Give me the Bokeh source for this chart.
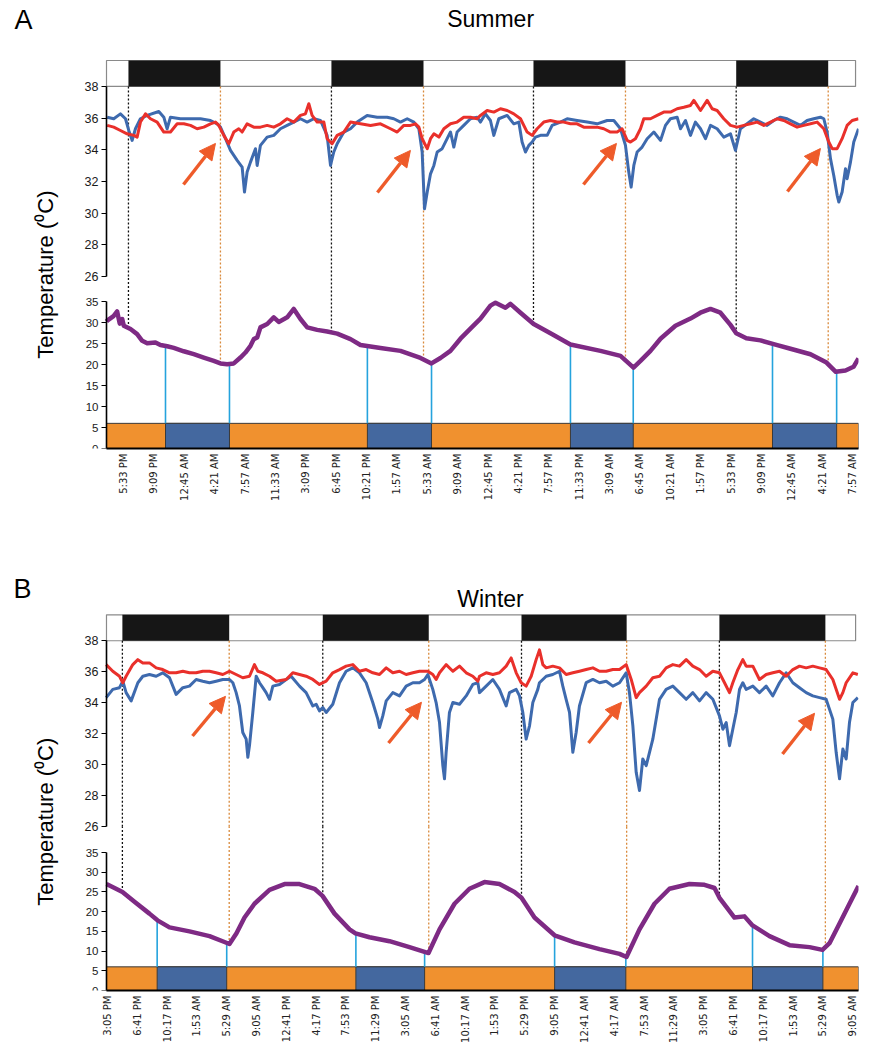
import numpy as np
from bokeh.plotting import figure
from bokeh.models import (Range1d, LinearAxis, FixedTicker, CustomJSTickFormatter,
                          Label, Arrow, NormalHead)
from bokeh.layouts import column
from bokeh.embed import file_html
from bokeh.resources import INLINE

# ---------------- data: Summer (panel A) ----------------
# time axis in hours from the first tick label
A_TICKS = ["5:33 PM", "9:09 PM", "12:45 AM", "4:21 AM", "7:57 AM", "11:33 AM", "3:09 PM",
           "6:45 PM", "10:21 PM", "1:57 AM", "5:33 AM", "9:09 AM", "12:45 PM", "4:21 PM",
           "7:57 PM", "11:33 PM", "3:09 AM", "6:45 AM", "10:21 AM", "1:57 PM", "5:33 PM",
           "9:09 PM", "12:45 AM", "4:21 AM", "7:57 AM"]
A_DARK_START = [0.59, 24.64, 48.58, 72.6]
A_DARK_END = [11.49, 35.55, 59.48, 83.5]
A_NIGHT_START = [4.98, 28.9, 52.96, 76.9]
A_NIGHT_END = [12.56, 36.5, 60.4, 84.5]

A_BLUE = [(-1.93, 36.06), (-1.15, 35.96), (-0.36, 36.27), (0.24, 35.96), (0.63, 35.22), (1.03, 34.59),
          (1.42, 35.33), (2.01, 35.96), (2.80, 36.17), (4.19, 36.42), (4.78, 36.06), (5.17, 35.33),
          (5.57, 36.06), (6.75, 35.96), (7.94, 35.96), (9.12, 35.96), (10.31, 35.85), (11.10, 35.64),
          (11.49, 35.43), (12.09, 34.70), (12.68, 33.96), (13.47, 33.33), (14.06, 32.90), (14.34, 31.33),
          (14.65, 32.59), (15.05, 33.22), (15.64, 34.07), (15.84, 33.01), (16.23, 34.28), (17.02, 34.80),
          (17.81, 34.91), (18.60, 35.33), (19.39, 35.54), (20.18, 35.75), (20.97, 35.96), (21.76, 35.75),
          (22.55, 35.96), (23.34, 35.85), (24.13, 34.91), (24.53, 33.01), (24.92, 33.86), (25.32, 34.38),
          (26.11, 35.12), (26.90, 35.33), (27.69, 35.75), (28.87, 36.17), (30.06, 36.06), (31.24, 36.06),
          (32.03, 35.96), (32.82, 35.75), (33.62, 35.96), (34.41, 35.75), (35.00, 35.33), (35.39, 33.86),
          (35.67, 30.27), (35.99, 31.33), (36.38, 32.48), (36.78, 33.01), (37.17, 33.86), (37.76, 34.07),
          (38.35, 34.70), (38.75, 35.12), (39.14, 34.17), (39.53, 35.12), (40.32, 35.54), (41.11, 35.96),
          (41.90, 36.06), (42.30, 35.75), (42.89, 36.27), (43.48, 35.85), (43.88, 34.91), (44.47, 35.96),
          (45.46, 36.17), (46.25, 35.64), (46.84, 35.75), (47.23, 34.49), (47.63, 33.86), (48.03, 34.28),
          (48.42, 34.49), (48.82, 34.80), (49.41, 34.91), (50.20, 34.91), (50.79, 35.54), (51.78, 35.75),
          (52.57, 35.96), (53.75, 35.85), (54.94, 35.75), (56.12, 35.64), (57.31, 35.85), (58.10, 35.85),
          (58.89, 35.33), (59.48, 34.28), (59.87, 32.59), (60.15, 31.64), (60.47, 33.01), (60.86, 33.86),
          (61.45, 34.17), (62.05, 34.70), (62.84, 35.12), (63.63, 34.59), (64.22, 35.54), (64.81, 35.96),
          (65.60, 36.06), (66.00, 35.33), (66.59, 35.85), (67.18, 34.91), (67.77, 35.75), (68.37, 35.33),
          (68.96, 34.70), (69.55, 35.54), (70.34, 35.33), (71.13, 34.80), (71.92, 35.01), (72.51, 33.96),
          (73.10, 35.33), (73.89, 35.64), (74.68, 35.96), (75.47, 35.75), (76.26, 35.54), (77.05, 35.85),
          (77.84, 36.06), (78.63, 35.96), (79.42, 35.75), (80.21, 35.54), (81.00, 35.85), (81.79, 35.96),
          (82.58, 36.06), (82.98, 35.96), (83.37, 35.12), (83.77, 33.44), (84.16, 32.38), (84.56, 31.12),
          (84.76, 30.70), (85.15, 31.33), (85.55, 32.80), (85.74, 32.17), (86.14, 33.22), (86.53, 34.49),
          (87.09, 35.33)]

A_RED = [(-1.93, 35.54), (-1.15, 35.43), (-0.36, 35.22), (0.43, 35.01), (1.22, 34.91), (1.62, 34.80),
         (2.01, 35.75), (2.61, 36.27), (3.20, 35.96), (3.99, 35.75), (4.78, 35.12), (5.57, 35.12),
         (6.36, 35.64), (7.15, 35.64), (7.94, 35.54), (8.73, 35.33), (9.52, 35.43), (10.31, 35.64),
         (10.90, 35.75), (11.29, 35.54), (11.89, 34.91), (12.48, 34.38), (13.07, 35.12), (13.66, 35.33),
         (14.06, 35.12), (14.65, 35.64), (15.44, 35.43), (16.23, 35.43), (17.02, 35.54), (17.81, 35.43),
         (18.60, 35.64), (19.39, 35.96), (20.18, 35.75), (20.97, 36.17), (21.56, 36.27), (21.96, 36.91),
         (22.35, 36.17), (22.95, 35.75), (23.74, 35.75), (24.13, 34.70), (24.72, 34.38), (25.32, 34.91),
         (26.11, 35.12), (26.90, 35.75), (28.08, 35.64), (29.27, 35.54), (30.45, 35.64), (31.64, 35.33),
         (32.43, 35.12), (33.22, 35.54), (34.01, 35.54), (34.60, 35.64), (35.00, 35.43), (35.39, 34.70),
         (35.99, 34.07), (36.38, 34.70), (36.78, 35.01), (37.37, 34.80), (37.96, 35.33), (38.75, 35.64),
         (39.53, 35.75), (40.32, 36.06), (41.11, 36.06), (41.90, 35.96), (42.30, 36.17), (43.09, 36.48),
         (43.88, 36.38), (44.67, 36.59), (45.46, 36.48), (46.25, 36.27), (47.04, 35.96), (47.83, 35.12),
         (48.42, 34.91), (49.01, 35.33), (49.80, 35.75), (50.59, 35.85), (51.38, 35.75), (52.17, 35.75),
         (52.96, 35.64), (53.75, 35.64), (54.54, 35.43), (55.33, 35.43), (56.12, 35.43), (56.91, 35.33),
         (57.70, 35.12), (58.49, 35.12), (59.08, 35.33), (59.68, 34.59), (60.07, 34.49), (60.66, 34.70),
         (61.26, 35.33), (61.65, 35.96), (62.44, 35.96), (63.23, 36.17), (64.02, 36.38), (64.81, 36.38),
         (65.60, 36.59), (66.39, 36.69), (67.18, 36.80), (67.58, 37.12), (68.37, 36.48), (69.16, 37.12),
         (69.75, 36.59), (70.34, 36.48), (71.13, 35.96), (71.92, 35.54), (72.71, 35.43), (73.50, 35.54),
         (74.29, 35.64), (75.08, 35.75), (75.87, 35.54), (76.66, 35.75), (77.45, 35.96), (78.24, 35.85),
         (79.03, 35.64), (79.82, 35.43), (80.61, 35.54), (81.40, 35.64), (82.19, 35.75), (82.98, 35.33),
         (83.57, 34.49), (83.97, 34.07), (84.56, 34.07), (85.15, 34.70), (85.74, 35.54), (86.34, 35.85),
         (87.09, 35.96)]

A_AMBIENT = [(-2.01, 30.3), (-1.93, 30.5), (-1.18, 31.6), (-0.75, 32.7), (-0.44, 29.8), (-0.15, 30.9),
             (0.04, 29.3), (0.83, 28.5), (1.62, 27.3), (2.22, 25.7), (2.81, 25.1), (3.79, 25.3), (4.38, 24.7),
             (5.18, 24.4), (5.96, 24.0), (7.14, 23.2), (8.33, 22.5), (9.51, 21.7), (10.70, 20.9), (11.49, 20.3),
             (12.29, 20.1), (13.07, 20.3), (13.86, 21.7), (14.45, 22.9), (15.05, 24.5), (15.44, 26.1),
             (15.84, 26.5), (16.23, 28.9), (17.03, 29.7), (17.81, 31.3), (18.40, 30.2), (19.40, 31.3),
             (20.18, 33.3), (20.97, 30.9), (21.77, 28.9), (22.95, 28.3), (24.14, 27.9), (25.32, 27.4),
             (26.90, 26.1), (28.08, 24.7), (30.45, 24.0), (32.82, 23.3), (35.19, 21.6), (36.49, 20.3),
             (37.56, 21.6), (38.74, 23.3), (39.93, 26.2), (41.11, 28.6), (42.30, 31.0), (43.48, 34.1),
             (44.08, 34.8), (45.26, 33.6), (45.85, 34.5), (47.04, 32.4), (48.60, 29.7), (50.59, 27.5),
             (52.96, 24.8), (56.52, 23.3), (58.89, 22.1), (60.43, 19.3), (61.26, 20.9), (62.44, 23.3),
             (63.63, 26.2), (65.40, 29.3), (67.18, 31.0), (68.36, 32.4), (69.55, 33.3), (70.73, 32.4),
             (71.92, 29.5), (72.60, 27.5), (73.80, 26.3), (75.47, 25.8), (77.25, 24.8), (79.03, 23.8),
             (81.40, 22.5), (83.30, 20.5), (84.40, 18.3), (85.55, 18.6), (86.50, 19.5), (87.09, 21.5)]

# arrows: (tail hour, tail temp, tip hour, tip temp)
A_ARROWS = [(7.11, 31.81, 10.90, 34.40), (30.09, 31.30, 34.00, 33.96),
            (54.50, 31.81, 58.41, 34.40), (78.67, 31.37, 82.58, 34.08)]

# ---------------- data: Winter (panel B) ----------------
B_TICKS = ["3:05 PM", "6:41 PM", "10:17 PM", "1:53 AM", "5:29 AM", "9:05 AM", "12:41 PM", "4:17 PM",
           "7:53 PM", "11:29 PM", "3:05 AM", "6:41 AM", "10:17 AM", "1:53 PM", "5:29 PM", "9:05 PM",
           "12:41 AM", "4:17 AM", "7:53 AM", "11:29 AM", "3:05 PM", "6:41 PM", "10:17 PM", "1:53 AM",
           "5:29 AM", "9:05 AM"]
B_DARK_START = [1.8, 26.0, 50.0, 73.9]
B_DARK_END = [14.7, 38.8, 62.7, 86.7]
B_NIGHT_START = [6.0, 30.0, 54.0, 77.9]
B_NIGHT_END = [14.4, 38.3, 62.6, 86.4]

B_BLUE = [(-0.16, 34.33), (0.64, 34.86), (1.45, 34.97), (1.85, 35.39), (2.25, 34.65), (2.86, 34.12),
          (3.67, 35.29), (4.27, 35.71), (5.07, 35.82), (5.88, 35.71), (6.68, 35.93), (7.49, 35.61),
          (8.29, 34.54), (9.10, 34.97), (9.90, 35.07), (10.71, 35.50), (11.51, 35.39), (12.32, 35.29),
          (13.12, 35.39), (13.93, 35.50), (14.73, 35.50), (15.14, 35.29), (15.54, 34.65), (15.94, 33.79),
          (16.34, 32.08), (16.75, 31.65), (16.95, 30.48), (17.15, 31.23), (17.55, 33.37), (17.96, 35.71),
          (18.36, 35.29), (18.76, 34.97), (19.16, 34.65), (19.57, 34.22), (19.97, 35.07), (20.77, 35.18),
          (21.58, 35.50), (22.18, 35.71), (23.19, 35.07), (23.99, 34.65), (24.80, 33.79), (25.20, 33.90),
          (25.60, 33.47), (26.01, 33.69), (26.41, 33.37), (27.21, 33.90), (28.02, 35.29), (28.82, 36.03),
          (29.63, 36.25), (30.43, 35.93), (31.24, 35.29), (32.04, 34.01), (32.65, 32.94), (32.85, 32.40),
          (33.25, 33.15), (33.66, 34.12), (34.46, 34.65), (35.27, 34.44), (36.07, 35.07), (36.88, 35.29),
          (37.68, 35.29), (38.29, 35.50), (38.69, 35.82), (39.29, 34.86), (39.69, 34.01), (40.10, 32.72),
          (40.50, 29.94), (40.70, 29.09), (40.90, 30.80), (41.30, 33.37), (41.71, 34.01), (42.51, 33.90),
          (43.32, 34.44), (44.12, 35.18), (44.73, 35.29), (44.93, 34.65), (45.73, 35.07), (46.54, 35.50),
          (47.34, 34.86), (48.15, 33.79), (48.55, 34.65), (49.36, 34.86), (49.76, 34.44), (50.16, 33.37),
          (50.56, 31.65), (50.97, 32.51), (51.37, 34.01), (51.97, 34.86), (52.17, 35.29), (52.98, 35.71),
          (53.78, 35.82), (54.59, 36.03), (54.99, 35.07), (55.39, 34.22), (55.80, 33.37), (56.20, 30.80),
          (56.60, 32.08), (57.00, 33.79), (57.81, 35.29), (58.62, 35.50), (59.42, 35.29), (60.23, 35.39),
          (61.03, 35.07), (61.84, 35.29), (62.64, 35.93), (63.04, 34.65), (63.45, 32.51), (63.85, 29.51),
          (64.25, 28.34), (64.65, 30.37), (65.06, 29.94), (65.86, 31.65), (66.67, 34.22), (67.47, 34.86),
          (68.28, 35.07), (69.08, 34.65), (69.89, 34.22), (70.69, 34.65), (71.50, 34.12), (72.30, 34.65),
          (73.11, 34.22), (73.91, 33.15), (74.32, 32.29), (74.72, 32.72), (75.12, 31.23), (75.52, 32.29),
          (75.93, 33.37), (76.33, 34.86), (76.73, 35.29), (77.13, 34.86), (77.94, 35.07), (78.74, 34.65),
          (79.55, 35.07), (80.35, 34.44), (81.16, 35.29), (81.96, 35.93), (82.77, 35.29), (83.57, 34.97),
          (84.38, 34.65), (85.18, 34.44), (85.99, 34.33), (86.79, 34.22), (87.60, 32.94), (88.00, 30.80),
          (88.41, 29.09), (88.81, 31.01), (89.21, 30.37), (89.61, 32.72), (90.02, 34.01), (90.62, 34.33)]

B_RED = [(-0.16, 36.46), (0.64, 36.03), (1.45, 35.71), (1.85, 35.29), (2.25, 35.71), (3.06, 36.46),
         (3.67, 36.78), (4.27, 36.57), (5.07, 36.57), (5.88, 36.25), (6.68, 36.14), (7.49, 35.93),
         (8.29, 35.93), (9.10, 36.03), (9.90, 35.93), (10.71, 35.93), (11.51, 36.03), (12.32, 36.03),
         (13.12, 35.93), (13.93, 35.82), (14.73, 36.03), (15.54, 35.82), (16.34, 35.61), (17.15, 35.71),
         (17.75, 36.46), (18.16, 36.03), (18.76, 35.93), (19.57, 35.71), (20.37, 35.39), (21.58, 35.50),
         (22.38, 35.93), (23.19, 35.82), (23.99, 35.71), (24.80, 35.50), (25.60, 35.18), (26.41, 35.39),
         (27.21, 35.93), (28.02, 36.14), (28.82, 36.36), (29.63, 36.46), (30.43, 36.03), (31.24, 36.14),
         (32.04, 35.93), (32.85, 35.82), (33.66, 36.25), (34.46, 35.93), (35.27, 36.03), (36.07, 35.82),
         (36.88, 35.93), (37.68, 36.03), (38.69, 36.03), (39.29, 35.82), (39.69, 35.50), (40.10, 35.93),
         (40.90, 36.46), (41.71, 36.03), (42.51, 36.36), (43.32, 35.93), (44.12, 35.71), (44.73, 35.39),
         (44.93, 35.71), (45.73, 35.93), (46.54, 35.82), (47.34, 35.93), (48.15, 36.36), (48.75, 36.89),
         (49.36, 35.93), (49.96, 35.29), (50.56, 35.07), (51.17, 35.71), (51.77, 36.78), (52.17, 37.41),
         (52.58, 36.46), (52.98, 36.25), (53.78, 36.36), (54.59, 36.25), (55.39, 35.82), (56.20, 35.93),
         (57.00, 36.03), (57.81, 36.14), (58.62, 36.25), (59.42, 36.03), (60.23, 36.03), (61.03, 36.14),
         (61.84, 36.14), (62.64, 36.46), (63.25, 35.50), (63.85, 34.33), (64.25, 34.65), (65.06, 35.07),
         (65.86, 35.61), (66.67, 35.71), (67.47, 36.25), (68.28, 36.46), (69.08, 36.36), (69.89, 36.78),
         (70.69, 36.36), (71.50, 36.14), (72.30, 35.71), (73.11, 36.03), (73.91, 35.93), (74.52, 35.29),
         (75.12, 34.65), (75.52, 35.29), (76.13, 36.14), (76.73, 36.78), (77.13, 36.36), (77.94, 36.36),
         (78.74, 35.50), (79.55, 35.82), (80.35, 35.93), (81.16, 36.03), (81.96, 35.71), (82.77, 36.14),
         (83.57, 36.36), (84.38, 36.25), (85.18, 36.36), (85.99, 36.25), (86.79, 36.14), (87.60, 35.50),
         (88.41, 34.22), (88.81, 34.65), (89.21, 35.29), (90.02, 35.93), (90.62, 35.82)]

B_AMBIENT = [(-0.12, 27.0), (0.85, 26.0), (1.81, 25.0), (3.26, 22.5), (5.07, 19.5), (6.04, 17.8),
             (7.49, 16.0), (9.90, 15.0), (12.32, 13.8), (14.13, 12.3), (14.73, 11.8), (15.58, 14.5),
             (16.55, 18.5), (17.75, 22.0), (19.57, 25.5), (21.38, 27.0), (23.19, 27.0), (25.0, 25.8),
             (25.97, 24.0), (27.42, 19.5), (29.23, 15.5), (29.95, 14.5), (31.64, 13.5), (34.06, 12.5),
             (36.47, 11.0), (38.29, 9.8), (38.77, 9.5), (40.10, 15.5), (41.91, 22.0), (43.72, 25.8),
             (45.53, 27.5), (47.34, 27.0), (49.15, 25.0), (50.0, 23.5), (51.57, 18.5), (53.99, 14.0),
             (56.40, 12.2), (59.42, 10.5), (61.84, 9.3), (62.68, 8.5), (64.25, 15.5), (66.06, 22.0),
             (67.87, 25.8), (70.29, 27.0), (72.10, 26.8), (73.31, 26.0), (73.91, 23.5), (75.72, 18.5),
             (76.93, 18.8), (77.90, 16.5), (79.95, 13.8), (82.37, 11.5), (84.78, 11.0), (86.35, 10.3),
             (87.20, 12.0), (88.41, 17.0), (89.61, 22.0), (90.70, 26.5)]

B_ARROWS = [(10.27, 31.85, 14.25, 34.41), (33.94, 31.40, 37.92, 34.03),
            (58.09, 31.40, 62.08, 34.03), (81.52, 30.69, 85.39, 33.32)]

# ---------------- styling ----------------
C_BLUE = "#3e6aae"
C_RED = "#e9302b"
C_PURPLE = "#7e2a84"
C_ORANGE_BAR = "#f0912f"
C_BLUE_BAR = "#44689f"
C_CYAN = "#25a3dd"
C_ARROW = "#ee5b2a"
C_DOT_ORANGE = "#d98a3c"
FONT = "Liberation Sans"


def style_yaxis(ax, size):
    ax.major_tick_out = 5
    ax.major_tick_in = 0
    ax.minor_tick_line_color = None
    ax.major_tick_line_width = 1.2
    ax.axis_line_width = 1.6
    ax.axis_line_color = "black"
    ax.major_label_text_font = FONT
    ax.major_label_text_font_size = size
    ax.major_label_text_color = "#1a1a1a"
    ax.major_label_standoff = 3


def build_panel(cfg):
    x0, x1 = cfg["xr"]
    xs0 = cfg["xstart"]
    l0, l1 = cfg["lr"]
    u0, u1 = cfg["ur"]
    p = figure(width=870, height=cfg["height"], x_range=Range1d(x0, x1), y_range=Range1d(l0, l1),
               output_backend="svg", toolbar_location=None, y_axis_location=None,
               min_border=0, min_border_left=0, min_border_right=12,
               min_border_top=0, min_border_bottom=cfg["bottom"])
    p.outline_line_color = None
    p.grid.visible = False
    p.extra_y_ranges = {"upper": Range1d(u0, u1)}

    # x axis with time labels
    labels = cfg["ticks"]
    xa = p.xaxis[0]
    xa.bounds = (xs0, x1)
    xa.ticker = FixedTicker(ticks=[round(3.6 * k, 3) for k in range(len(labels))])
    xa.formatter = CustomJSTickFormatter(args=dict(labels=labels),
                                         code="return labels[Math.round(tick / 3.6)];")
    xa.major_label_orientation = np.pi / 2
    xa.major_tick_out = 0
    xa.major_tick_in = 0
    xa.major_tick_line_color = None
    xa.minor_tick_line_color = None
    xa.axis_line_width = 2.2
    xa.axis_line_color = "black"
    xa.major_label_text_font = "DejaVu Sans"
    xa.major_label_text_font_size = "10px"
    xa.major_label_text_color = "#222222"
    xa.major_label_standoff = 5

    # two stacked y axes at the left edge of the data area
    ax_up = LinearAxis(y_range_name="upper", bounds=(26, 38),
                       ticker=FixedTicker(ticks=list(range(26, 39, 2))), fixed_location=xs0)
    style_yaxis(ax_up, "12.5px")
    p.add_layout(ax_up, "left")
    ax_lo = LinearAxis(bounds=(0, 35), ticker=FixedTicker(ticks=list(range(0, 36, 5))),
                       fixed_location=xs0)
    style_yaxis(ax_lo, "11.5px")
    p.add_layout(ax_lo, "left")

    amb_h = [a for a, _ in cfg["amb"]]
    amb_v = [b for _, b in cfg["amb"]]

    # light/dark bar
    bar_top = cfg["bar_top"]
    p.quad(left=[xs0], right=[x1 - 0.35], bottom=[38], top=[bar_top], y_range_name="upper",
           fill_color="white", line_color="#8a8a8a", line_width=1.2)
    p.quad(left=cfg["dark_s"], right=cfg["dark_e"], bottom=38, top=bar_top, y_range_name="upper",
           fill_color="#161616", line_color=None)

    # day/night bar under the ambient trace
    p.quad(left=[xs0], right=[x1], bottom=[0], top=[6], fill_color=C_ORANGE_BAR,
           line_color="#3a3a3a", line_width=1)
    p.quad(left=cfg["night_s"], right=cfg["night_e"], bottom=0, top=6, fill_color=C_BLUE_BAR,
           line_color="#3a3a3a", line_width=1)

    # dotted guides from the light/dark bar to the ambient trace
    y_join = l0 + (26 - u0) / (u1 - u0) * (l1 - l0)
    for xs, col in ((cfg["dark_s"], "#111111"), (cfg["dark_e"], C_DOT_ORANGE)):
        n = len(xs)
        p.segment(x0=xs, y0=[38] * n, x1=xs, y1=[26] * n, y_range_name="upper",
                  line_color=col, line_dash="2 2", line_width=1.3)
        p.segment(x0=xs, y0=list(np.interp(xs, amb_h, amb_v)), x1=xs, y1=[y_join] * n,
                  line_color=col, line_dash="2 2", line_width=1.3)

    # cyan guides from ambient trace to the day/night bar
    ns = cfg["night_s"] + cfg["night_e"]
    p.segment(x0=ns, y0=list(np.interp(ns, amb_h, amb_v)), x1=ns, y1=[6] * len(ns),
              line_color=C_CYAN, line_width=1.6)

    # series
    p.line(amb_h, amb_v, line_color=C_PURPLE, line_width=4.5, line_join="round")
    p.line([a for a, _ in cfg["blue"]], [b for _, b in cfg["blue"]], y_range_name="upper",
           line_color=C_BLUE, line_width=3, line_join="round")
    p.line([a for a, _ in cfg["red"]], [b for _, b in cfg["red"]], y_range_name="upper",
           line_color=C_RED, line_width=3, line_join="round")

    for (xs_, ys_, xe_, ye_) in cfg["arrows"]:
        p.add_layout(Arrow(x_start=xs_, y_start=ys_, x_end=xe_, y_end=ye_, y_range_name="upper",
                           line_color=C_ARROW, line_width=3.4,
                           end=NormalHead(size=16, fill_color=C_ARROW, line_color=C_ARROW)))

    # texts
    lx, ly = cfg["letter_pos"]
    p.add_layout(Label(x=lx, y=ly, text=cfg["letter"], text_font=FONT, text_font_size="27px",
                       text_align="left", text_baseline="alphabetic", text_color="black"))
    tx, ty = cfg["title_pos"]
    p.add_layout(Label(x=tx, y=ty, text=cfg["title"], text_font=FONT, text_font_size="23px",
                       text_align="center", text_baseline="alphabetic", text_color="black"))
    yx, yy = cfg["ylabel_pos"]
    p.add_layout(Label(x=yx, y=yy, text="Temperature (\u2070C)", text_font=FONT,
                       text_font_size="22px", angle=np.pi / 2, text_align="center",
                       text_baseline="middle", text_color="black"))
    return p


panel_a = build_panel(dict(
    height=535, bottom=87,
    xr=(-14.57, 87.09), xstart=-2.01, lr=(0, 106.9), ur=(15.13, 43.43), bar_top=39.64,
    ticks=A_TICKS, dark_s=A_DARK_START, dark_e=A_DARK_END,
    night_s=A_NIGHT_START, night_e=A_NIGHT_END,
    blue=A_BLUE, red=A_RED, amb=A_AMBIENT, arrows=A_ARROWS,
    letter="A", letter_pos=(-12.9, 102.2),
    title="Summer", title_pos=(43.5, 102.5),
    ylabel_pos=(-9.24, 41.5)))

panel_b = build_panel(dict(
    height=510, bottom=52,
    xr=(-12.92, 90.70), xstart=-0.12, lr=(0, 115.4), ur=(15.43, 44.79), bar_top=39.67,
    ticks=B_TICKS, dark_s=B_DARK_START, dark_e=B_DARK_END,
    night_s=B_NIGHT_START, night_e=B_NIGHT_END,
    blue=B_BLUE, red=B_RED, amb=B_AMBIENT, arrows=B_ARROWS,
    letter="B", letter_pos=(-11.35, 101.8),
    title="Winter", title_pos=(46.26, 99.4),
    ylabel_pos=(-7.49, 42.8)))

layout = column(panel_a, panel_b, spacing=0)
open("out.html", "w").write(file_html(layout, INLINE))
